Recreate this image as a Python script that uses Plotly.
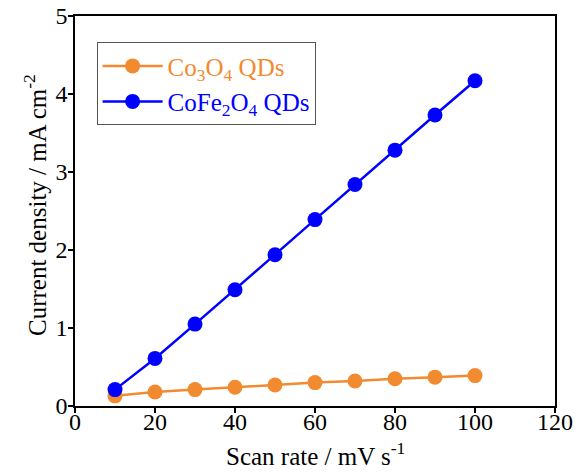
import plotly.graph_objects as go

scan_rate = [10, 20, 30, 40, 50, 60, 70, 80, 90, 100]
co3o4 = [0.13, 0.18, 0.21, 0.24, 0.27, 0.30, 0.32, 0.35, 0.37, 0.39]
cofe2o4 = [0.21, 0.61, 1.05, 1.49, 1.94, 2.39, 2.84, 3.28, 3.73, 4.17]

orange = "#F28A30"
blue = "#0000FF"
font = "Liberation Serif"

fig = go.Figure()
fig.add_trace(go.Scatter(x=scan_rate, y=co3o4, mode="lines+markers",
                         name="<span style='color:%s'>Co<sub>3</sub>O<sub>4</sub> QDs</span>" % orange,
                         line=dict(color=orange, width=2.5),
                         marker=dict(color=orange, size=15)))
fig.add_trace(go.Scatter(x=scan_rate, y=cofe2o4, mode="lines+markers",
                         name="<span style='color:%s'>CoFe<sub>2</sub>O<sub>4</sub> QDs</span>" % blue,
                         line=dict(color=blue, width=2.5),
                         marker=dict(color=blue, size=15)))

axis_common = dict(showline=True, linecolor="black", linewidth=1.5, mirror=True,
                   ticks="outside", ticklen=5, tickwidth=1.5, tickcolor="black",
                   showgrid=False, zeroline=False, automargin=False,
                   tickfont=dict(family=font, size=24, color="black"))

fig.update_layout(
    width=578, height=472,
    margin=dict(l=75, r=23, t=16, b=66),
    plot_bgcolor="white", paper_bgcolor="white",
    font=dict(family=font, size=24, color="black"),
    xaxis=dict(range=[0, 120], dtick=20, ticklabelstandoff=-12, **axis_common),
    yaxis=dict(range=[0, 5], dtick=1, ticklabelstandoff=-4, **axis_common),
    legend=dict(x=0.045, y=0.933, xanchor="left", yanchor="top",
                bgcolor="white", bordercolor="#555", borderwidth=1,
                font=dict(family=font, size=25), itemwidth=60,
                tracegroupgap=0),
    showlegend=True,
    annotations=[
        dict(text="Scan rate / mV s<sup>-1</sup>", xref="paper", yref="paper",
             x=0.5, y=0, xanchor="center", yanchor="top", yshift=-30,
             showarrow=False, font=dict(family=font, size=25, color="black")),
        dict(text="Current density / mA cm<sup>-2</sup>", xref="paper", yref="paper",
             x=0, y=0.5, xanchor="center", yanchor="middle", xshift=-40, yshift=6,
             textangle=-90, showarrow=False, font=dict(family=font, size=25, color="black")),
    ],
)

fig.write_html("out.html")
